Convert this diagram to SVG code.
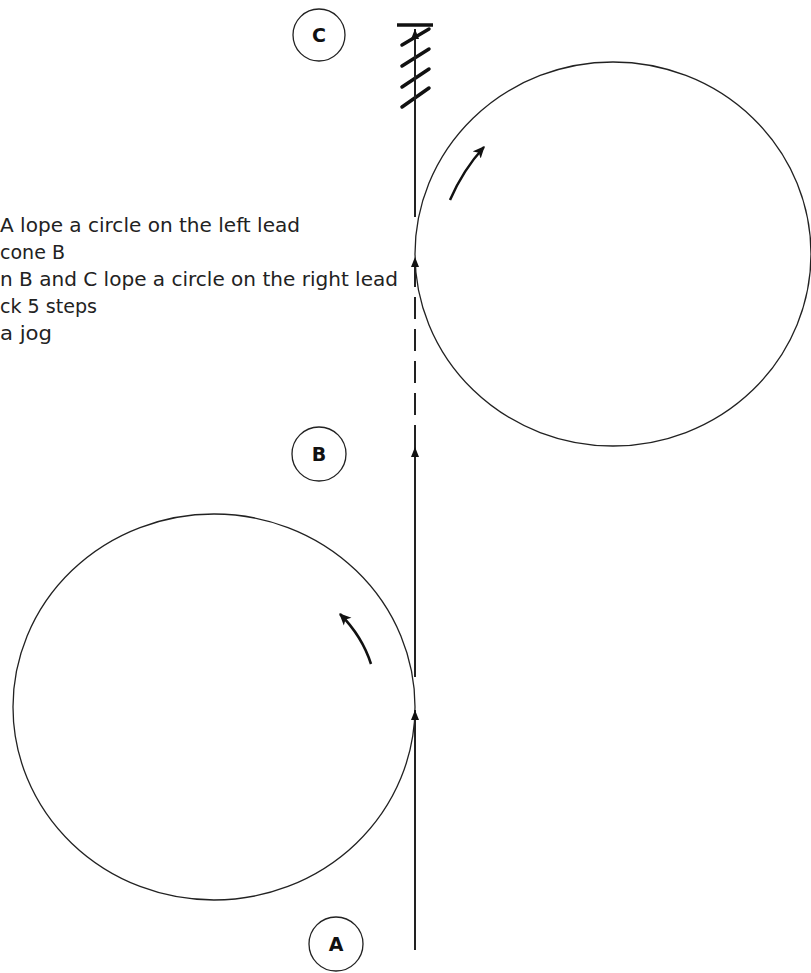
<svg xmlns="http://www.w3.org/2000/svg" width="811" height="973" viewBox="0 0 811 973">
<style>
.path{fill:none;stroke:#222;stroke-width:2}
.ring{fill:none;stroke:#222;stroke-width:1.3}
.hatch{stroke:#111;stroke-width:3.5;stroke-linecap:round}
.lbl{font-family:"DejaVu Sans",sans-serif;font-weight:bold;font-size:19px;fill:#111}
.note{font-family:"DejaVu Sans Condensed","DejaVu Sans",sans-serif;font-size:19px;fill:#222}
.turn{fill:none;stroke:#111;stroke-width:2.5}
</style>
<defs>
<marker id="ah" viewBox="0 0 10 10" refX="10" refY="5" markerWidth="10" markerHeight="10" markerUnits="userSpaceOnUse" orient="auto">
<path d="M0,1 L10,5 L0,9 Z" fill="#111"/>
</marker>
<marker id="ah2" viewBox="0 0 10 10" refX="9" refY="5" markerWidth="12" markerHeight="12" markerUnits="userSpaceOnUse" orient="auto">
<path d="M0,0.5 L10,5 L0,9.5 L2.5,5 Z" fill="#111"/>
</marker>
</defs>
<g id="notes">
<text class="note" x="0" y="232" textLength="300" lengthAdjust="spacingAndGlyphs">A lope a circle on the left lead</text>
<text class="note" x="0" y="259" textLength="65" lengthAdjust="spacingAndGlyphs">cone B</text>
<text class="note" x="0" y="286" textLength="398" lengthAdjust="spacingAndGlyphs">n B and C lope a circle on the right lead</text>
<text class="note" x="0" y="313" textLength="97" lengthAdjust="spacingAndGlyphs">ck 5 steps</text>
<text class="note" x="0" y="340" textLength="52" lengthAdjust="spacingAndGlyphs">a jog</text>
</g>
<g id="circle-left"><ellipse class="ring" cx="214" cy="707" rx="201" ry="193"/></g>
<g id="circle-right"><ellipse class="ring" cx="613" cy="254" rx="198" ry="192"/></g>
<g id="cone-A"><circle class="ring" cx="336" cy="944" r="27"/><text class="lbl" x="336" y="951" text-anchor="middle">A</text></g>
<g id="cone-B"><circle class="ring" cx="319" cy="454" r="27"/><text class="lbl" x="319" y="461" text-anchor="middle">B</text></g>
<g id="cone-C"><circle class="ring" cx="319" cy="35" r="26"/><text class="lbl" x="319" y="42" text-anchor="middle">C</text></g>
<g id="stop">
<line x1="397" y1="25" x2="433" y2="25" stroke="#111" stroke-width="3.5"/>
<line class="hatch" x1="402" y1="45" x2="429" y2="29"/>
<line class="hatch" x1="402" y1="66" x2="429" y2="49"/>
<line class="hatch" x1="402" y1="87" x2="429" y2="69"/>
<line class="hatch" x1="402" y1="107" x2="429" y2="88"/>
</g>
<g id="connectors">
<line class="path" x1="415" y1="950" x2="415" y2="710" marker-end="url(#ah)"/>
<line class="path" x1="415" y1="677" x2="415" y2="447" marker-end="url(#ah)"/>
<line class="path" x1="415" y1="447" x2="415" y2="257" stroke-dasharray="22 10" marker-end="url(#ah)"/>
<line class="path" x1="415" y1="217" x2="415" y2="29" marker-end="url(#ah)"/>
<path class="turn" d="M371,664 Q362,636 340,614" marker-end="url(#ah2)"/>
<path class="turn" d="M450,200 Q463,170 484,147" marker-end="url(#ah2)"/>
</g>
</svg>
